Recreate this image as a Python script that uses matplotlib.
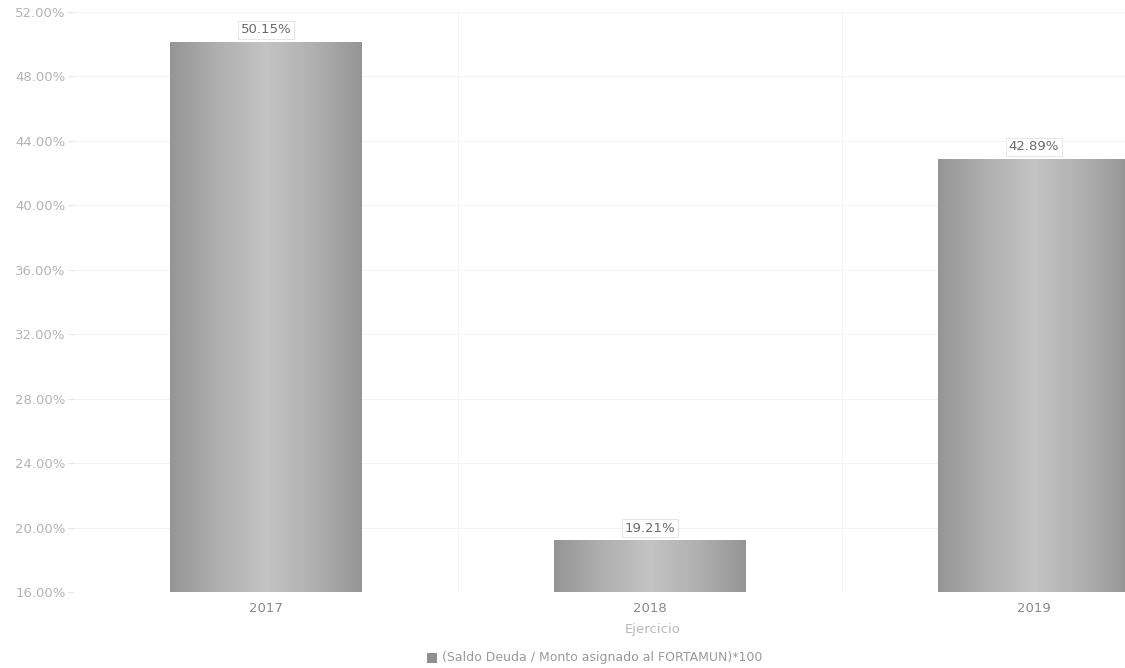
import numpy as np
import matplotlib
matplotlib.use("Agg")
import matplotlib.pyplot as plt
from matplotlib.colors import LinearSegmentedColormap

# Data
years = ["2017", "2018", "2019"]
ratios = [50.15, 19.21, 42.89]
y_ticks = [16, 20, 24, 28, 32, 36, 40, 44, 48, 52]
series_label = "(Saldo Deuda / Monto asignado al FORTAMUN)*100"
x_title = "Ejercicio"

W, H = 1125, 668
fig = plt.figure(figsize=(W / 100, H / 100), dpi=100)
fig.patch.set_facecolor("white")

# Plot area: the right-most category band runs past the image edge
left_px, right_px = 74, 1226
top_px, bottom_px = 12, 592
ax = fig.add_axes([left_px / W, 1 - bottom_px / H,
                   (right_px - left_px) / W, (bottom_px - top_px) / H])
ax.set_facecolor("white")

x = np.arange(len(years))

# faint grid
for yt in y_ticks:
    ax.axhline(yt, color="#f4f4f4", lw=0.8, zorder=0)
for xb in [0.5, 1.5]:
    ax.axvline(xb, color="#f4f4f4", lw=0.8, zorder=0)

bars = ax.bar(x, np.array(ratios) - y_ticks[0], bottom=y_ticks[0], width=0.5,
              color="#aaaaaa", edgecolor="none", zorder=2)

# horizontal shading across each bar: darker edges, lighter centre
cmap = LinearSegmentedColormap.from_list(
    "shade", ["#959595", "#b0b0b0", "#c3c3c3", "#b0b0b0", "#959595"])
grad = np.linspace(0, 1, 256).reshape(1, -1)
for b in bars:
    x0, y0 = b.get_x(), b.get_y()
    im = ax.imshow(grad, cmap=cmap, aspect="auto",
                   extent=[x0, x0 + b.get_width(), y0, y0 + b.get_height()],
                   zorder=3, interpolation="bilinear")
    im.set_clip_path(b)

ax.set_xlim(-0.5, len(years) - 0.5)
ax.set_ylim(y_ticks[0], y_ticks[-1])

# value labels in light boxes
for xi, v in zip(x, ratios):
    ax.annotate(f"{v:.2f}%", (xi, v), xytext=(0, 4), textcoords="offset points",
                ha="center", va="bottom", fontsize=9.5, color="#6a6a6a",
                bbox=dict(boxstyle="square,pad=0.2", fc="white",
                          ec="#e6e6e6", lw=0.7), zorder=5)

for s in ax.spines.values():
    s.set_visible(False)

ax.set_yticks(y_ticks)
ax.set_yticklabels([f"{t:.2f}%" for t in y_ticks])
ax.tick_params(axis="y", length=4, color="#e6e6e6", labelsize=9.5,
               labelcolor="#b4b4b4", pad=2)
ax.set_xticks(x)
ax.set_xticklabels(years)
ax.tick_params(axis="x", length=0, labelsize=9.5, labelcolor="#8a8a8a", pad=7)

fig.text(653 / W, 1 - 629 / H, x_title, ha="center", va="center",
         fontsize=9.5, color="#b8b8b8")

# legend
leg_y = 1 - 658 / H
fig.patches.append(plt.Rectangle((427 / W, leg_y - 5 / H), 10 / W, 10 / H,
                                 transform=fig.transFigure, fc="#8e8e8e",
                                 ec="none"))
fig.text(442 / W, leg_y, series_label, ha="left", va="center",
         fontsize=9, color="#9a9a9a")

fig.savefig("out.png", dpi=100, facecolor="white")
